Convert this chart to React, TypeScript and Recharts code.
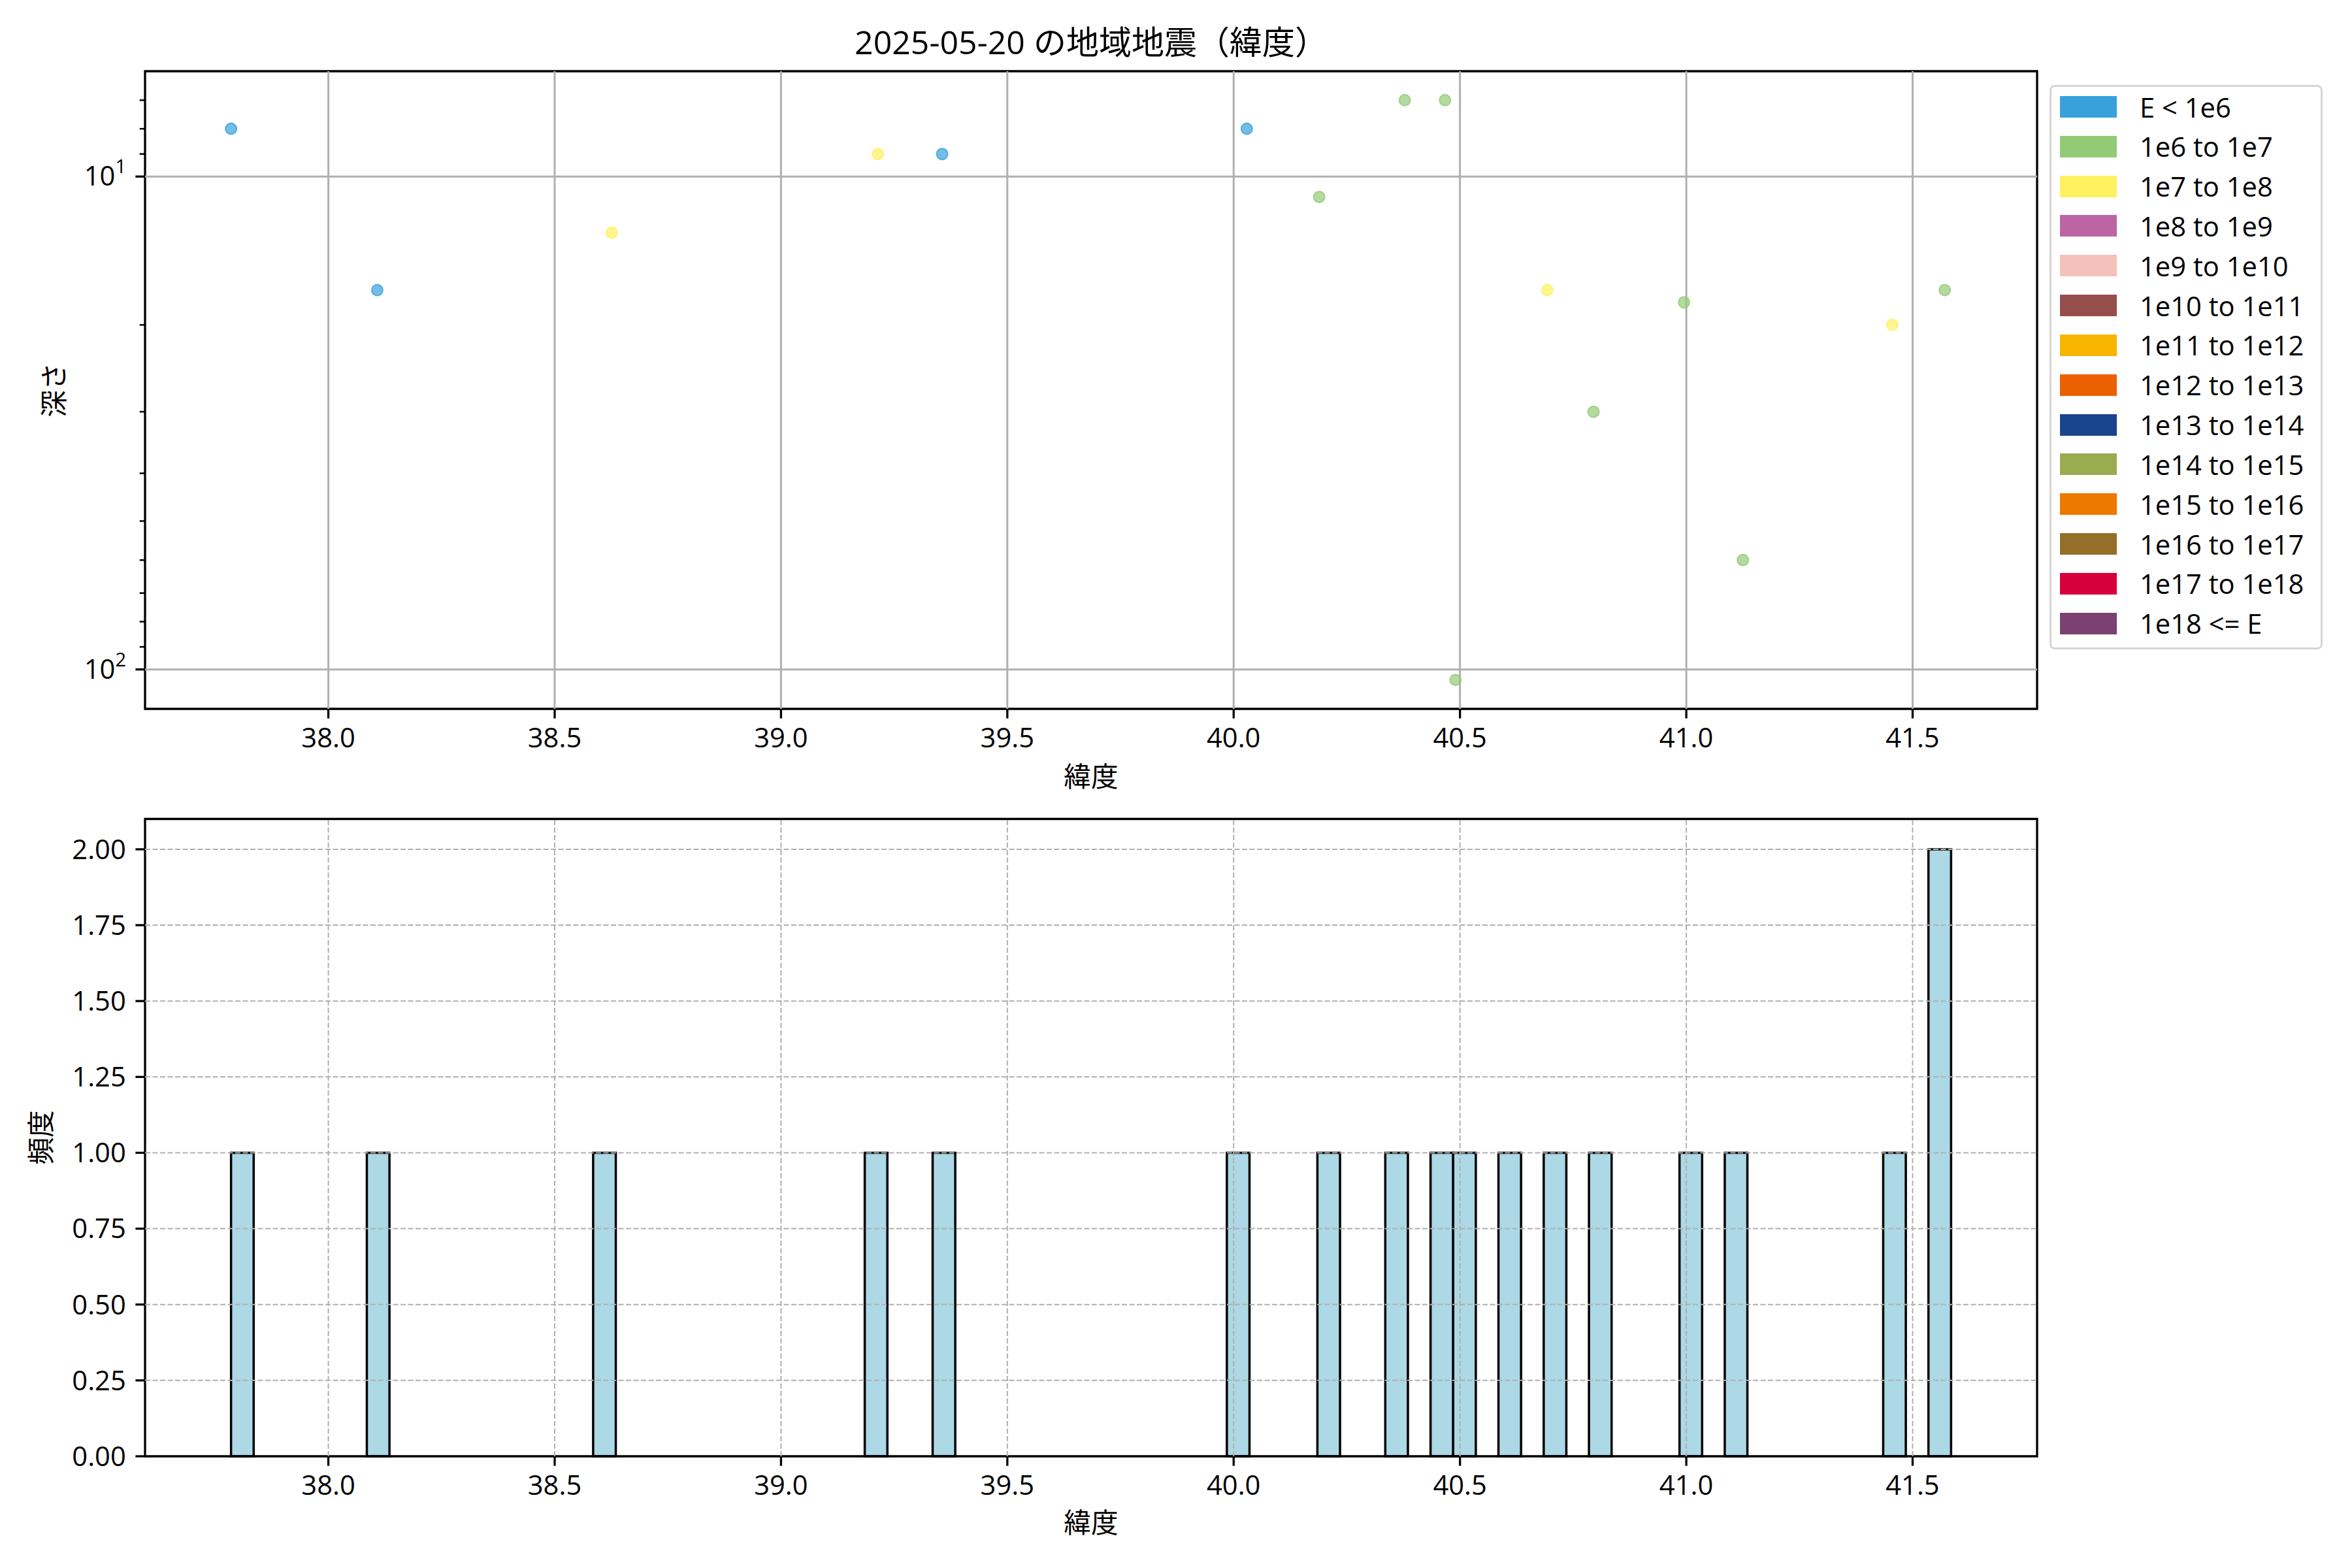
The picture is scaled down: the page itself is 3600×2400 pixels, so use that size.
import React from 'react'
import { ScatterChart, Scatter, ComposedChart, XAxis, YAxis, ReferenceLine, ReferenceArea } from 'recharts'

const FONT = '"Open Sans", "Noto Sans CJK JP", sans-serif'

const TITLE = '2025-05-20 の地域地震（緯度）'
const X_LABEL = '緯度'
const DEPTH_LABEL = '深さ'
const COUNT_LABEL = '頻度'

// one entry per quake; depth 0 = no depth, not drawn on the log axis
const QUAKE_LAT = [37.785, 38.108, 38.626, 39.214, 39.356, 40.029, 40.189, 40.378, 40.467, 40.49, 40.6, 40.693, 40.795, 40.995, 41.125, 41.455, 41.571, 41.585]
const QUAKE_DEPTH = [8, 17, 13, 9, 9, 8, 11, 7, 7, 105, 0, 17, 30, 18, 60, 20, 17, 0]
const QUAKE_CLASS = [0, 0, 2, 2, 0, 0, 1, 1, 1, 1, 1, 2, 1, 1, 1, 2, 1, 1]

const ENERGY_LABELS = [
  'E < 1e6', '1e6 to 1e7', '1e7 to 1e8', '1e8 to 1e9', '1e9 to 1e10', '1e10 to 1e11', '1e11 to 1e12',
  '1e12 to 1e13', '1e13 to 1e14', '1e14 to 1e15', '1e15 to 1e16', '1e16 to 1e17', '1e17 to 1e18', '1e18 <= E',
]
const ENERGY_COLORS = [
  '#38A1DB', '#93CA76', '#FFF15F', '#BC64A4', '#F5C1BB', '#954E4C', '#F8B500',
  '#EB6101', '#19448E', '#9BAB4F', '#EE7800', '#956F29', '#D7003A', '#7A4171',
]

const X_TICKS = [38.0, 38.5, 39.0, 39.5, 40.0, 40.5, 41.0, 41.5]
const DEPTH_MAJOR = [10, 100]
const DEPTH_TICKS = [7, 8, 9, 10, 20, 30, 40, 50, 60, 70, 80, 90, 100]
const COUNT_TICKS = [0, 0.25, 0.5, 0.75, 1.0, 1.25, 1.5, 1.75, 2.0]
const HIST_BINS = 76

const W = 3600
const FS = 41.7

// ranges
const latMin = Math.min(...QUAKE_LAT)
const latMax = Math.max(...QUAKE_LAT)
const latPad = (latMax - latMin) * 0.05
const xDomain = [latMin - latPad, latMax + latPad]

const points = QUAKE_LAT.map((lat, i) => ({ lat, depth: QUAKE_DEPTH[i], cls: QUAKE_CLASS[i] })).filter((p) => p.depth > 0)
const logMin = Math.log10(Math.min(...points.map((p) => p.depth)))
const logMax = Math.log10(Math.max(...points.map((p) => p.depth)))
const logPad = (logMax - logMin) * 0.05
const depthDomain = [Math.pow(10, logMin - logPad), Math.pow(10, logMax + logPad)]

// histogram
const binW = (latMax - latMin) / HIST_BINS
const counts = new Array(HIST_BINS).fill(0)
QUAKE_LAT.forEach((lat) => {
  const k = Math.min(HIST_BINS - 1, Math.floor((lat - latMin) / binW))
  counts[k] += 1
})
const bins = counts
  .map((count, i) => ({ x0: latMin + i * binW, x1: latMin + (i + 1) * binW, count }))
  .filter((b) => b.count > 0)
const countDomain = [0, Math.max(...counts) * 1.05]

const tickStyle = { fill: '#000', fontSize: FS, fontFamily: FONT }

const DepthTick = (props: any) => {
  const { x, y, payload } = props
  const v = payload.value
  const major = DEPTH_MAJOR.includes(v)
  return (
    <g>
      <line x1={x - (major ? 14.6 : 8.3)} x2={x} y1={y} y2={y} stroke="#000" strokeWidth={major ? 3.3 : 2.5} />
      {major && (
        <text x={x - 29} y={y + 14} textAnchor="end" fontSize={FS} fontFamily={FONT} fill="#000">
          10
          <tspan dy={-19} fontSize={29}>{Math.round(Math.log10(v))}</tspan>
        </text>
      )}
    </g>
  )
}

const textAbs = (left: number, top: number, size: number, rotate = false): React.CSSProperties => ({
  position: 'absolute',
  left,
  top,
  fontSize: size,
  fontFamily: FONT,
  color: '#000',
  lineHeight: 1,
  whiteSpace: 'nowrap',
  transform: rotate ? 'translate(-50%, -50%) rotate(-90deg)' : 'translate(-50%, -50%)',
})

export default function App() {
  return (
    <div style={{ position: 'absolute', left: 0, top: 0, width: W, height: 2400, background: '#fff', overflow: 'hidden' }}>
      <div style={textAbs(1670, 64, 50)}>{TITLE}</div>

      <div style={{ position: 'absolute', left: 0, top: 0 }}>
        <ScatterChart width={W} height={1200} margin={{ top: 109, right: 482, bottom: 0, left: 0 }}>
          <XAxis
            type="number"
            dataKey="lat"
            domain={xDomain}
            allowDataOverflow
            ticks={X_TICKS}
            interval={0}
            tickFormatter={(v: number) => v.toFixed(1)}
            height={115}
            tickSize={14.6}
            tickMargin={14.6}
            axisLine={false}
            tickLine={{ stroke: '#000', strokeWidth: 3.3 }}
            tick={tickStyle}
          />
          <YAxis
            type="number"
            dataKey="depth"
            scale="log"
            domain={depthDomain}
            allowDataOverflow
            reversed
            ticks={DEPTH_TICKS}
            interval={0}
            width={222}
            tickSize={0}
            tickMargin={0}
            axisLine={false}
            tickLine={false}
            tick={(p: any) => <DepthTick {...p} />}
          />
          {X_TICKS.map((t) => (
            <ReferenceLine key={'gx' + t} x={t} stroke="#b0b0b0" strokeWidth={3} />
          ))}
          {DEPTH_MAJOR.map((t) => (
            <ReferenceLine key={'gy' + t} y={t} stroke="#b0b0b0" strokeWidth={3} />
          ))}
          {ENERGY_COLORS.map((color, ci) => {
            const data = points.filter((p) => p.cls === ci)
            if (!data.length) return null
            return (
              <Scatter
                key={ci}
                data={data}
                isAnimationActive={false}
                shape={(p: any) => (
                  <circle cx={p.cx} cy={p.cy} r={8.5} fill={color} fillOpacity={0.7} stroke={color} strokeOpacity={0.8} strokeWidth={2} />
                )}
              />
            )
          })}
          <ReferenceArea
            x1={xDomain[0]}
            x2={xDomain[1]}
            y1={depthDomain[0]}
            y2={depthDomain[1]}
            ifOverflow="visible"
            fill="none"
            fillOpacity={0}
            stroke="#000"
            strokeWidth={3.3}
          />
        </ScatterChart>
      </div>
      <div style={textAbs(82, 597, FS, true)}>{DEPTH_LABEL}</div>
      <div style={textAbs(1670, 1188, FS)}>{X_LABEL}</div>

      <div style={{ position: 'absolute', left: 0, top: 1200 }}>
        <ComposedChart width={W} height={1200} data={bins} margin={{ top: 53.5, right: 482, bottom: 0, left: 0 }}>
          <XAxis
            type="number"
            dataKey="x0"
            domain={xDomain}
            allowDataOverflow
            ticks={X_TICKS}
            interval={0}
            tickFormatter={(v: number) => v.toFixed(1)}
            height={171}
            tickSize={14.6}
            tickMargin={14.6}
            axisLine={false}
            tickLine={{ stroke: '#000', strokeWidth: 3.3 }}
            tick={tickStyle}
          />
          <YAxis
            type="number"
            domain={countDomain}
            allowDataOverflow
            ticks={COUNT_TICKS}
            interval={0}
            tickFormatter={(v: number) => v.toFixed(2)}
            width={222}
            tickSize={14.6}
            tickMargin={14.6}
            axisLine={false}
            tickLine={{ stroke: '#000', strokeWidth: 3.3 }}
            tick={tickStyle}
          />
          {bins.map((b, i) => (
            <ReferenceArea
              key={'b' + i}
              x1={b.x0}
              x2={b.x1}
              y1={0}
              y2={b.count}
              ifOverflow="visible"
              fill="#ADD8E6"
              fillOpacity={1}
              stroke="#000"
              strokeWidth={3.5}
            />
          ))}
          {X_TICKS.map((t) => (
            <ReferenceLine key={'hx' + t} x={t} stroke="#b0b0b0" strokeWidth={2} strokeDasharray="8 3.5" />
          ))}
          {COUNT_TICKS.filter((t) => t > countDomain[0]).map((t) => (
            <ReferenceLine key={'hy' + t} y={t} stroke="#b0b0b0" strokeWidth={2} strokeDasharray="8 3.5" />
          ))}
          <ReferenceArea
            x1={xDomain[0]}
            x2={xDomain[1]}
            y1={countDomain[0]}
            y2={countDomain[1]}
            ifOverflow="visible"
            fill="none"
            fillOpacity={0}
            stroke="#000"
            strokeWidth={3.3}
          />
        </ComposedChart>
      </div>
      <div style={textAbs(62, 1741, FS, true)}>{COUNT_LABEL}</div>
      <div style={textAbs(1670, 2330, FS)}>{X_LABEL}</div>

      <div
        style={{
          position: 'absolute',
          left: 3137,
          top: 130,
          width: 418,
          height: 864,
          boxSizing: 'border-box',
          border: '3px solid #d6d6d6',
          borderRadius: 8,
          background: '#fff',
        }}
      />
      {ENERGY_LABELS.map((label, i) => (
        <React.Fragment key={label}>
          <div
            style={{
              position: 'absolute',
              left: 3153,
              top: 147 + i * 60.83,
              width: 87,
              height: 33,
              background: ENERGY_COLORS[i],
            }}
          />
          <div
            style={{
              position: 'absolute',
              left: 3275,
              top: 163.5 + i * 60.83,
              transform: 'translateY(-50%)',
              fontSize: FS,
              fontFamily: FONT,
              lineHeight: 1,
              whiteSpace: 'nowrap',
              color: '#000',
            }}
          >
            {label}
          </div>
        </React.Fragment>
      ))}
    </div>
  )
}
